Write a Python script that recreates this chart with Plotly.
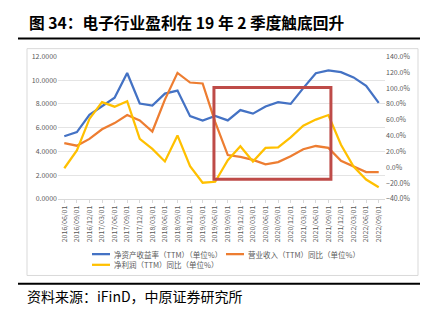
import plotly.graph_objects as go

dates = ["2016/06/01","2016/09/01","2016/12/01","2017/03/01","2017/06/01","2017/09/01",
         "2017/12/01","2018/03/01","2018/06/01","2018/09/01","2018/12/01","2019/03/01",
         "2019/06/01","2019/09/01","2019/12/01","2020/03/01","2020/06/01","2020/09/01",
         "2020/12/01","2021/03/01","2021/06/01","2021/09/01","2021/12/01","2022/03/01",
         "2022/06/01","2022/09/01"]

roe = [5.28, 5.63, 7.07, 7.76, 8.52, 10.6, 8.03, 7.86, 8.87, 9.12, 6.97, 6.59,
       6.99, 6.61, 7.48, 7.18, 7.78, 8.14, 8.0, 9.33, 10.58, 10.83, 10.67, 10.23,
       9.52, 8.08]
rev_yoy = [30.5, 27.2, 35.8, 48.0, 55.7, 65.9, 59.0, 45.1, 85.4, 119.2, 107.0, 105.8,
           56.9, 15.4, 13.0, 9.3, 3.6, 6.5, 13.8, 22.7, 26.8, 24.4, 8.1, 0.8,
           -6.2, -6.2]
np_yoy = [-1.3, 21.1, 61.0, 82.2, 76.5, 83.4, 35.8, 23.1, 7.3, 40.2, 1.2, -19.6,
          -18.4, 8.9, 26.4, 7.3, 24.4, 25.2, 37.8, 52.5, 60.2, 65.9, 28.4, 0.8,
          -15.5, -25.3]

names = ["净资产收益率（TTM）（单位%）", "营业收入（TTM）同比（单位%）", "净利润（TTM）同比（单位%）"]
colors = ["#4472C4", "#ED7D31", "#FFC000"]

# highlight box (index range on x, left-axis values on y)
box_x = [11.9, 21.2]
box_y = [1.66, 9.39]

W, H = 429, 326
FONT = "Noto Sans CJK SC"
GRAY = "#595959"
x_idx = list(range(len(dates)))

fig = go.Figure()
fig.add_trace(go.Scatter(x=x_idx, y=roe, mode="lines", name=names[0],
                         line=dict(color=colors[0], width=2.25), yaxis="y"))
fig.add_trace(go.Scatter(x=x_idx, y=rev_yoy, mode="lines", name=names[1],
                         line=dict(color=colors[1], width=2.25), yaxis="y2"))
fig.add_trace(go.Scatter(x=x_idx, y=np_yoy, mode="lines", name=names[2],
                         line=dict(color=colors[2], width=2.25), yaxis="y2"))

def px_x(p): return p / W
def px_y(p): return 1 - p / H

fig.update_layout(
    width=W, height=H, margin=dict(l=0, r=0, t=0, b=0),
    paper_bgcolor="white", plot_bgcolor="white",
    font=dict(family=FONT, color=GRAY, size=7),
    xaxis=dict(domain=[px_x(58), px_x(385)], range=[-0.5, len(dates) - 0.5],
               tickmode="array", tickvals=x_idx, ticktext=dates, tickangle=-90,
               tickfont=dict(size=7, color=GRAY), showgrid=False, showline=True,
               linecolor="#D9D9D9", linewidth=1, ticks="outside", ticklen=3,
               tickcolor="#D9D9D9", zeroline=False, fixedrange=True),
    yaxis=dict(domain=[px_y(199), px_y(52)], range=[0, 12], dtick=2, tickformat=".4f",
               showgrid=True, gridcolor="#E4E4E4", gridwidth=1, zeroline=False,
               showline=False, tickfont=dict(size=7, color=GRAY), ticks="", ticklen=0),
    yaxis2=dict(overlaying="y", side="right", range=[-40, 140], dtick=20,
                tickformat=".1f", ticksuffix="%", showgrid=False, zeroline=False,
                showline=False, tickfont=dict(size=7, color=GRAY), anchor="x"),
    showlegend=False,
)

shapes = [
    # chart frame
    dict(type="rect", xref="paper", yref="paper", x0=px_x(27), x1=px_x(418),
         y0=px_y(278), y1=px_y(44), line=dict(color="#D9D9D9", width=1), layer="below"),
    # title underline
    dict(type="line", xref="paper", yref="paper", x0=px_x(18), x1=px_x(420),
         y0=px_y(33.5), y1=px_y(33.5), line=dict(color="black", width=2)),
    # bottom rule
    dict(type="line", xref="paper", yref="paper", x0=px_x(18), x1=px_x(420),
         y0=px_y(286.5), y1=px_y(286.5), line=dict(color="black", width=2)),
    # highlight box
    dict(type="rect", xref="x", yref="y", x0=box_x[0], x1=box_x[1], y0=box_y[0], y1=box_y[1],
         line=dict(color="#BE4B48", width=3), layer="above"),
]

# manual legend: (line start x, text start x, row y) in pixels
legend_pos = [(92, 112, 256), (226, 246, 256), (92, 112, 267)]
for (lx, tx, ly), nm, col in zip(legend_pos, names, colors):
    shapes.append(dict(type="line", xref="paper", yref="paper", x0=px_x(lx), x1=px_x(lx + 18),
                       y0=px_y(ly), y1=px_y(ly), line=dict(color=col, width=2.25)))
    fig.add_annotation(text=nm, xref="paper", yref="paper", x=px_x(tx), y=px_y(ly),
                       xanchor="left", yanchor="middle", showarrow=False,
                       font=dict(family=FONT, size=7.5, color=GRAY))
fig.update_layout(shapes=shapes)

fig.add_annotation(text="<b>图 34：电子行业盈利在 19 年 2 季度触底回升</b>", xref="paper", yref="paper",
                   x=px_x(27), y=px_y(17), xanchor="left", yanchor="middle", showarrow=False,
                   font=dict(family=FONT, size=15.7, color="black"))
fig.add_annotation(text="资料来源：iFinD，中原证券研究所", xref="paper", yref="paper",
                   x=px_x(25), y=px_y(299), xanchor="left", yanchor="middle", showarrow=False,
                   font=dict(family=FONT, size=14, color="black"))

fig.write_html("out.html")
